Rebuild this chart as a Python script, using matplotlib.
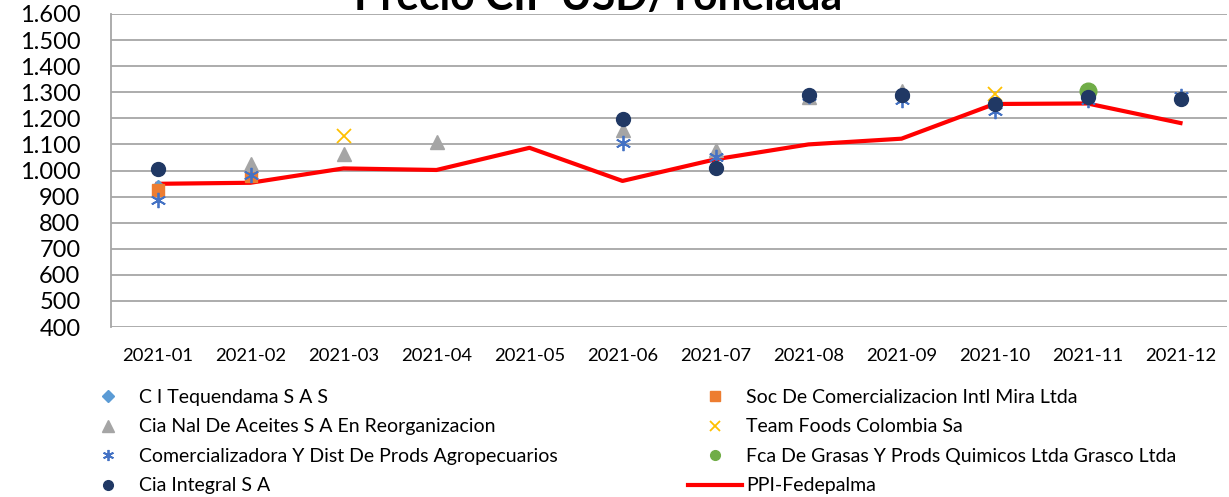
import numpy as np
import matplotlib.pyplot as plt
from matplotlib.lines import Line2D

nan = np.nan

# Meses del eje x
months = ['2021-01', '2021-02', '2021-03', '2021-04', '2021-05', '2021-06',
          '2021-07', '2021-08', '2021-09', '2021-10', '2021-11', '2021-12']

# Precio CIF USD/Tonelada por empresa
tequendama = [940, nan, nan, nan, nan, nan, nan, nan, nan, nan, nan, nan]
soc_mira = [925, 980, nan, nan, nan, nan, nan, nan, nan, nan, nan, nan]
cia_nal = [nan, 1025, 1062, 1110, nan, 1155, 1080, 1280, 1305, nan, nan, nan]
team_foods = [nan, nan, 1133, nan, nan, nan, nan, nan, nan, 1292, nan, nan]
comercializadora = [886, 983, nan, nan, nan, 1107, 1053, 1285, 1270, 1230, 1270, 1285]
grasco = [nan, nan, nan, nan, nan, nan, nan, nan, nan, nan, 1306, nan]
cia_integral = [1004, nan, nan, nan, nan, 1197, 1011, 1290, 1290, 1255, 1281, 1275]
ppi_fedepalma = [949, 953, 1008, 1002, 1087, 960, 1043, 1100, 1122, 1255, 1257, 1182]

plt.rcParams['font.family'] = ['Lato', 'DejaVu Sans']

fig = plt.figure(figsize=(12.29, 4.97), dpi=100)
ax = fig.add_axes([111 / 1229, 1 - 327 / 497, 1116 / 1229, 313 / 497])

x = np.arange(len(months))

ax.plot(x, ppi_fedepalma, color='#FF0000', lw=3, zorder=2, label='PPI-Fedepalma')

# nombre, datos, estilo en la grafica, tamano en la leyenda
series = [
    ('C I Tequendama S A S', tequendama, dict(marker='D', color='#5B9BD5', ms=6), 6),
    ('Soc De Comercializacion Intl Mira Ltda', soc_mira, dict(marker='s', color='#ED7D31', ms=9), 7),
    ('Cia Nal De Aceites S A En Reorganizacion', cia_nal, dict(marker='^', color='#A5A5A5', ms=10), 8),
    ('Team Foods Colombia Sa', team_foods, dict(marker='x', color='#FFC000', ms=10, mew=1.3), 7),
    ('Comercializadora Y Dist De Prods Agropecuarios', comercializadora,
     dict(marker=(6, 2, 0), color='#4472C4', ms=11, mew=1.3), 8),
    ('Fca De Grasas Y Prods Quimicos Ltda Grasco Ltda', grasco, dict(marker='o', color='#70AD47', ms=12), 7),
    ('Cia Integral S A', cia_integral, dict(marker='o', color='#203864', ms=10), 7),
]

for name, vals, st, _ in series:
    ax.plot(x, vals, linestyle='none', zorder=3, markeredgecolor=st['color'], **st)

ax.set_xlim(-0.5, 11.5)
ax.set_ylim(400, 1600)
ax.set_yticks(np.arange(400, 1601, 100))
ax.set_yticklabels(['{:,}'.format(v).replace(',', '.') for v in range(400, 1601, 100)], fontsize=17)
ax.set_xticks(x)
ax.set_xticklabels(months, fontsize=13.3)
ax.tick_params(axis='x', length=0, pad=15)
ax.tick_params(axis='y', length=0, pad=22)
ax.grid(axis='y', color='#A6A6A6', lw=1.3)
ax.set_axisbelow(True)
for s in ['top', 'right', 'bottom']:
    ax.spines[s].set_visible(False)
ax.spines['left'].set_color('#A6A6A6')
ax.spines['left'].set_linewidth(1.3)

fig.text(598 / 1229, 1 - 10 / 497, 'Precio CIF USD/Tonelada', ha='center', va='baseline',
         fontsize=30.7, fontweight='bold')

# Leyenda en dos columnas
def handle(st, ms):
    kw = dict(st)
    kw['ms'] = ms
    return Line2D([], [], linestyle='none', markeredgecolor=st['color'], **kw)

left = [series[0], series[2], series[4], series[6]]
right = [series[1], series[3], series[5]]
leg_kw = dict(frameon=False, fontsize=14, labelspacing=0.64, handlelength=2.78,
              handletextpad=0.2, borderpad=0, borderaxespad=0)

fig.legend([handle(s[2], s[3]) for s in left], [s[0] for s in left], loc='upper left',
           bbox_to_anchor=(81 / 1229, 1 - 389 / 497), **leg_kw)
rh = [handle(s[2], s[3]) for s in right] + [Line2D([], [], color='#FF0000', lw=3)]
rl = [s[0] for s in right] + ['PPI-Fedepalma']
fig.legend(rh, rl, loc='upper left', bbox_to_anchor=(688 / 1229, 1 - 389 / 497), **leg_kw)

fig.savefig('out.png', dpi=100)
